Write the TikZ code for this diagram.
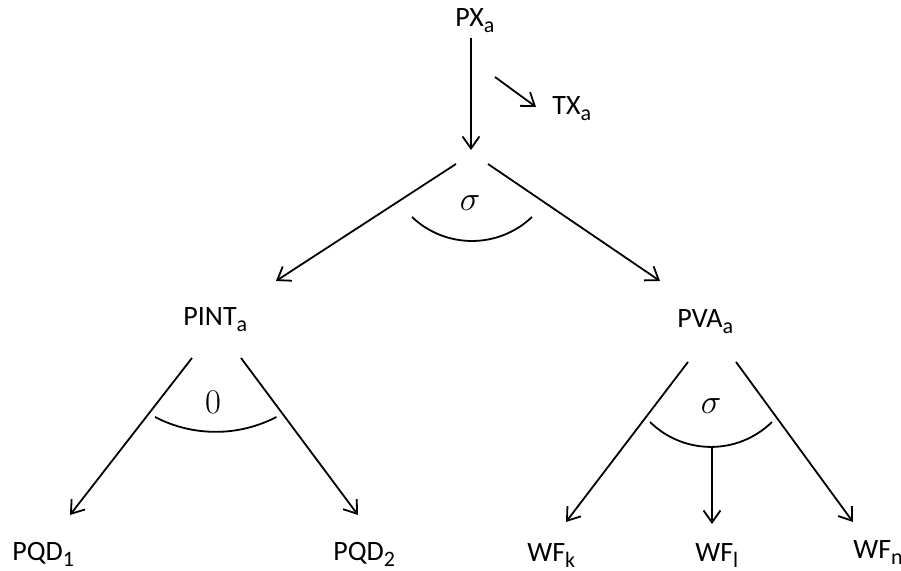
\documentclass[tikz,border=0pt]{standalone}
\usepackage{fontspec}
\setmainfont{Carlito}
\usetikzlibrary{arrows.meta}

% lowered index in the label font
\newcommand{\idx}[1]{\raisebox{-3pt}{\fontsize{11}{12}\selectfont #1}}

\begin{document}
\begin{tikzpicture}[
    x=0.5pt, y=0.5pt,
    lbl/.style={inner sep=0pt, anchor=base west, font=\fontsize{14}{17}\selectfont},
    elast/.style={inner sep=0pt, font=\fontsize{18}{21}\selectfont},
    arr/.style={-{Straight Barb[length=6pt, width=8.5pt]}, line width=0.9pt},
    nest/.style={line width=0.9pt}
  ]
    \useasboundingbox (0,0) rectangle (901,571);

    % top level
    \node[lbl] (px) at (455,544) {PX\idx{a}};
    \node[lbl] (tx) at (552,456) {TX\idx{a}};
    \coordinate (pxsplit) at (471,421);
    \coordinate (txfrom) at (495,494);
    \coordinate (txto) at (536,464);
    \draw[arr] (px.south -| pxsplit) ++(0,-4) -- (pxsplit);
    \draw[arr] (txfrom) -- (txto);

    % first nest: PINT / PVA
    \node[lbl] (pint) at (183,245) {PINT\idx{a}};
    \node[lbl] (pva) at (677,243) {PVA\idx{a}};
    \coordinate (topL) at (456,407);
    \coordinate (topR) at (488,407);
    \coordinate (pintto) at (276,290);
    \coordinate (pvato) at (660,290);
    \draw[arr] (topL) -- (pintto);
    \draw[arr] (topR) -- (pvato);
    \coordinate (toparc) at (412,354);
    \draw[nest] (toparc) arc[start angle=226.4, end angle=313.6, radius=43.5pt];
    \node[elast] (sigtop) at (470,368) {$\sigma$};

    % PINT branch
    \node[lbl] (pqdone) at (12,10) {PQD\idx{1}};
    \node[lbl] (pqdtwo) at (333,10) {PQD\idx{2}};
    \coordinate (pintL) at (192,213);
    \coordinate (pintR) at (241,213);
    \coordinate (pqdoneto) at (70,56);
    \coordinate (pqdtwoto) at (358,56);
    \draw[arr] (pintL) -- (pqdoneto);
    \draw[arr] (pintR) -- (pqdtwoto);
    \coordinate (pintarc) at (155,154);
    \draw[nest] (pintarc) arc[start angle=242.5, end angle=297.5, radius=65.75pt];
    \node[elast] (zero) at (213,169) {$0$};

    % PVA branch
    \node[lbl] (wfk) at (527,9) {WF\idx{k}};
    \node[lbl] (wfl) at (695,9) {WF\idx{l}};
    \node[lbl] (wfn) at (853,12) {WF\idx{n}};
    \coordinate (pvaL) at (688,209);
    \coordinate (pvaR) at (736,209);
    \coordinate (wfkto) at (566,49);
    \coordinate (wfnto) at (853,49);
    \draw[arr] (pvaL) -- (wfkto);
    \draw[arr] (pvaR) -- (wfnto);
    \coordinate (pvaarc) at (650,149);
    \draw[nest] (pvaarc) arc[start angle=225.5, end angle=314.5, radius=43.5pt];
    \coordinate (pvamid) at (712,124);
    \coordinate (wflto) at (712,47);
    \draw[arr] (pvamid) -- (wflto);
    \node[elast] (sigpva) at (711,165) {$\sigma$};
\end{tikzpicture}
\end{document}
